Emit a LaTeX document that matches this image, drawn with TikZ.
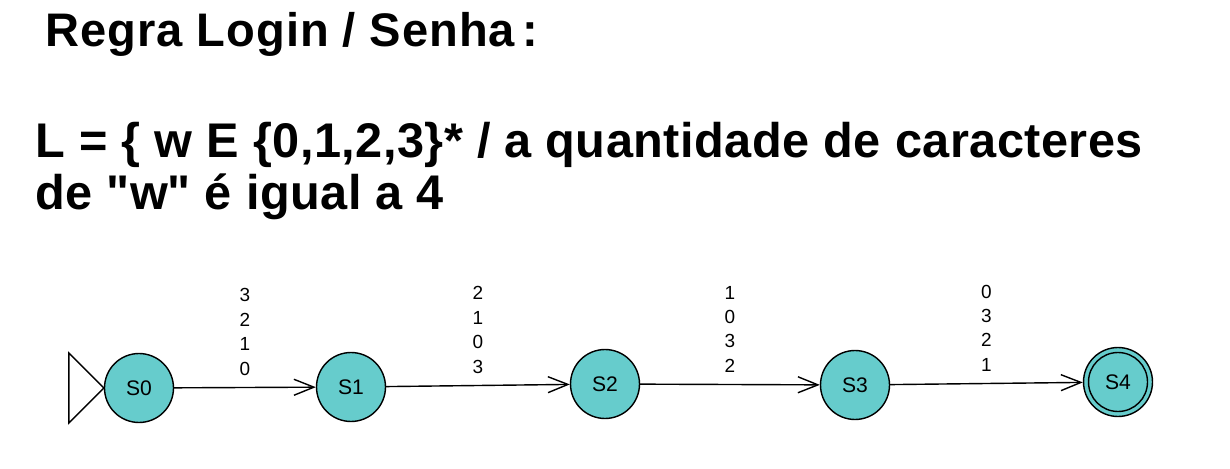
\documentclass[tikz,border=0pt]{standalone}
\usepackage{fontspec}
\setmainfont{Liberation Sans}
\newfontfamily\titlefont[LetterSpace=2]{Liberation Sans}
\newfontfamily\rulefont[LetterSpace=1]{Liberation Sans}
\usetikzlibrary{positioning,arrows.meta}
\definecolor{stateteal}{RGB}{102,204,204}
\begin{document}
\begin{tikzpicture}[x=0.02cm, y=0.02cm, line width=0.8pt,
        state/.style={circle, draw, fill=stateteal, minimum size=1.38cm, inner sep=0pt, text depth=-2pt, font=\fontsize{12}{14}\selectfont},
        trans/.style={-{Straight Barb[length=0.4cm, width=0.32cm, line width=0.8pt]}},
        lbl/.style={above=4.5pt, align=center, inner sep=2pt, font=\fontsize{10.8}{13.9}\selectfont}]
    \useasboundingbox (0,0) rectangle (1230,-469);
    % textos
    \node[anchor=base west, inner sep=0pt, font=\fontsize{26.8}{30}\titlefont\bfseries] (titulo) at (45,-47) {Regra Login / Senha\,:};
    \node[anchor=base west, inner sep=0pt, font=\fontsize{27.7}{36}\rulefont\bfseries] (linha1) at (35,-158) {L = \{ w E \{0,1,2,3\}* / a quantidade de caracteres};
    \node[anchor=base west, inner sep=0pt, font=\fontsize{27.7}{36}\rulefont\bfseries] (linha2) at (35,-210) {de \textquotedbl w\textquotedbl{} é igual a 4};
    % estados
    \node[state]  (s0) at (139,-388) {S0};
    \node[state]  (s1) at (351,-387) {S1};
    \node[state]  (s2) at (605,-384) {S2};
    \node[state]  (s3) at (855,-385) {S3};
    \node[state]  (s4) at (1118,-382) {S4};
    \draw (s4.center) circle[radius=0.59cm];
    % estado inicial
    \draw (s0.west) -- ++(-35,35) -- ++(0,-70) -- cycle;
    % transicoes
    \draw[trans] (s0) -- node[lbl] {3\\2\\1\\0} (s1);
    \draw[trans] (s1) -- node[lbl] {2\\1\\0\\3} (s2);
    \draw[trans] (s2) -- node[lbl] {1\\0\\3\\2} (s3);
    \draw[trans] (s3) -- node[lbl] {0\\3\\2\\1} (s4);
\end{tikzpicture}
\end{document}
